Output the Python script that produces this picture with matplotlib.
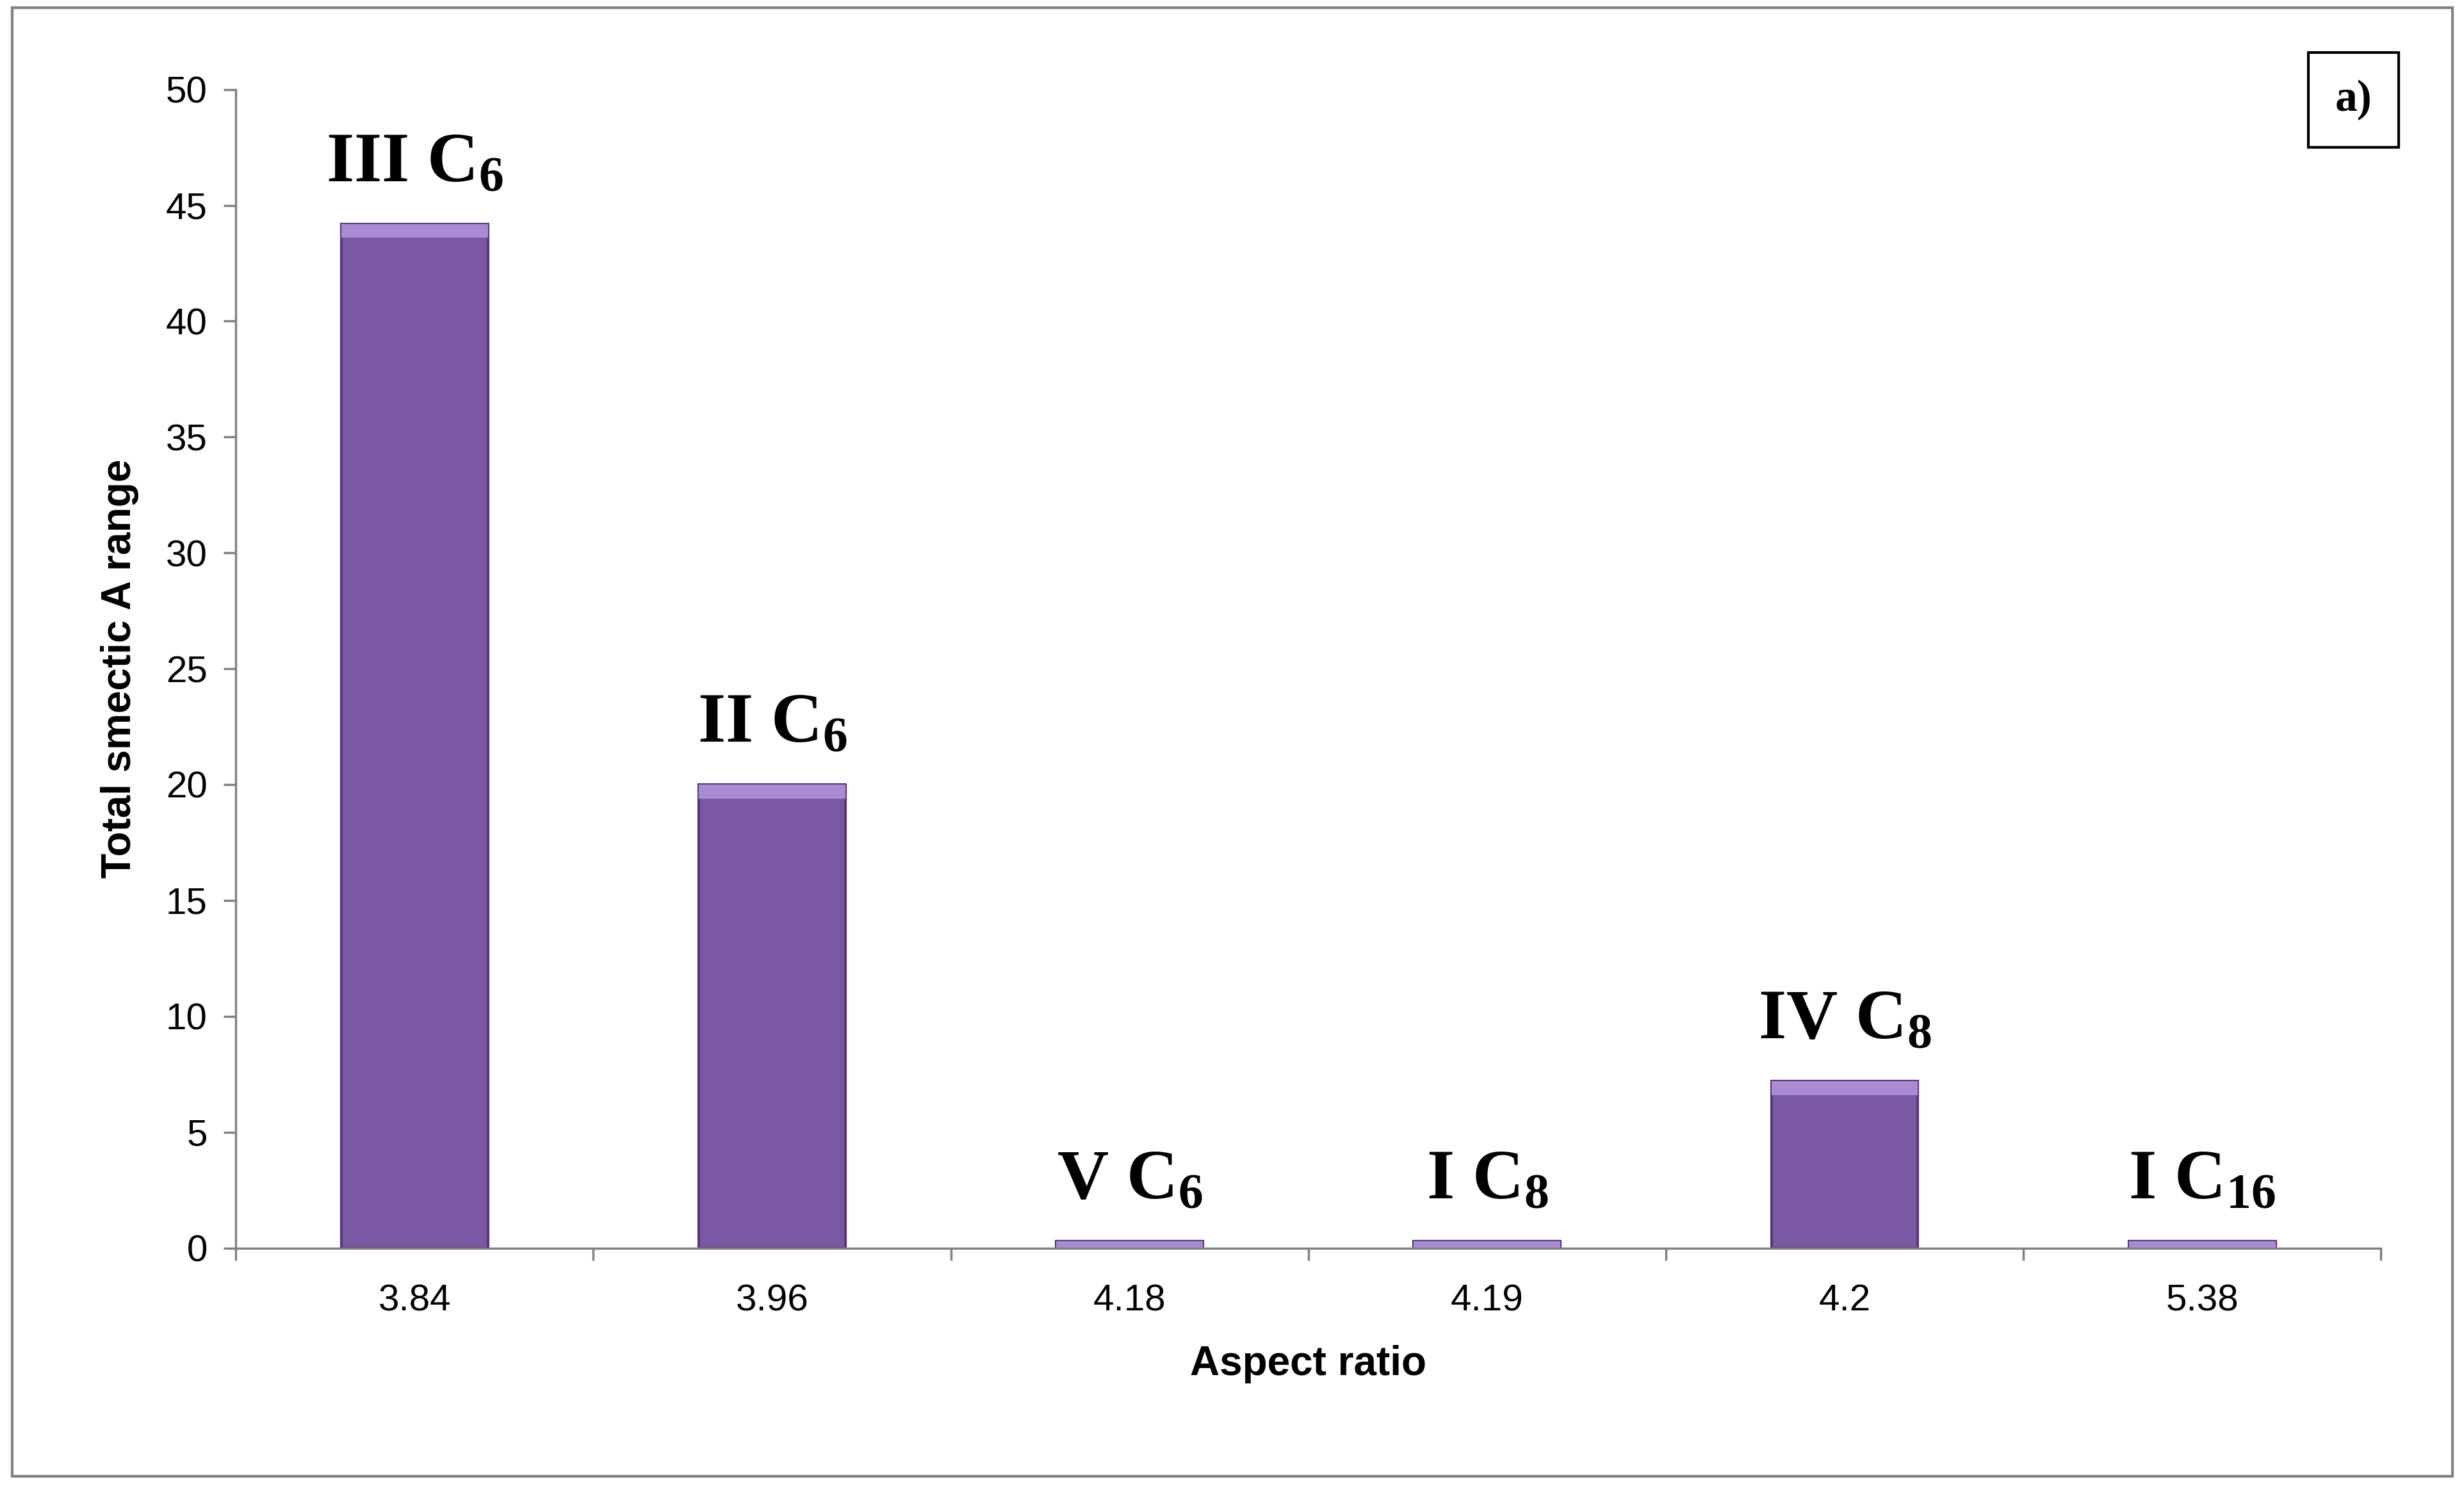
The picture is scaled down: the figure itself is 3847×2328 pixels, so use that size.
import matplotlib
matplotlib.use("Agg")
import matplotlib.pyplot as plt
from matplotlib.patches import Rectangle

plt.rcParams["mathtext.fontset"] = "custom"
plt.rcParams["mathtext.rm"] = "Liberation Serif:bold"
plt.rcParams["mathtext.it"] = "Liberation Serif:bold"

categories = ["3.84", "3.96", "4.18", "4.19", "4.2", "5.38"]
values = [44.2, 20.0, 0.3, 0.3, 7.2, 0.3]
bar_labels = ["III C$_6$", "II C$_6$", "V C$_6$", "I C$_8$", "IV C$_8$", "I C$_{16}$"]

fig = plt.figure(figsize=(38.48, 23.28), dpi=100)
ax = fig.add_axes([0.0957, 0.163, 0.8703, 0.777])

x = list(range(len(categories)))
ax.bar(x, values, width=0.41, color="#7a58a3", edgecolor="#56397d", linewidth=3)
# lighter top cap of each bar
ax.bar(x, [min(0.6, v) for v in values], width=0.41,
       bottom=[max(v - 0.6, 0) for v in values], color="#a98bd3", linewidth=0)

for xi, v, lab in zip(x, values, bar_labels):
    ax.text(xi, v + 1.2, lab, ha="center", va="bottom", fontsize=80,
            family="Liberation Serif", weight="bold")

ax.set_xlim(-0.5, len(categories) - 0.5)
ax.set_ylim(0, 50)
ax.set_yticks(range(0, 51, 5))
ax.set_xticks(x)
ax.set_xticklabels(categories)
ax.set_xticks([i - 0.5 for i in range(len(categories) + 1)], minor=True)
ax.tick_params(axis="x", which="major", length=0, pad=40)
ax.tick_params(axis="x", which="minor", length=14, width=2.5, color="#808080")
ax.tick_params(axis="y", length=14, width=2.5, color="#808080", pad=18)
for lbl in ax.get_xticklabels() + ax.get_yticklabels():
    lbl.set_fontsize(42)
    lbl.set_family("Liberation Sans")

for s in ["top", "right"]:
    ax.spines[s].set_visible(False)
for s in ["left", "bottom"]:
    ax.spines[s].set_color("#808080")
    ax.spines[s].set_linewidth(2.5)

ax.set_xlabel("Aspect ratio", fontsize=46, weight="bold", family="Liberation Sans", labelpad=30)
ax.set_ylabel("Total smectic A range", fontsize=46, weight="bold", family="Liberation Sans", labelpad=30)

fig.text(0.955, 0.933, "a)", ha="center", va="center", fontsize=50,
         family="Liberation Serif", weight="bold",
         bbox=dict(boxstyle="square,pad=0.6", facecolor="white", edgecolor="black", linewidth=3))

fig.patches.append(Rectangle((0.005, 0.01), 0.99, 0.985, transform=fig.transFigure,
                             fill=False, edgecolor="#808080", linewidth=3))

fig.savefig("out.png", dpi=100)
